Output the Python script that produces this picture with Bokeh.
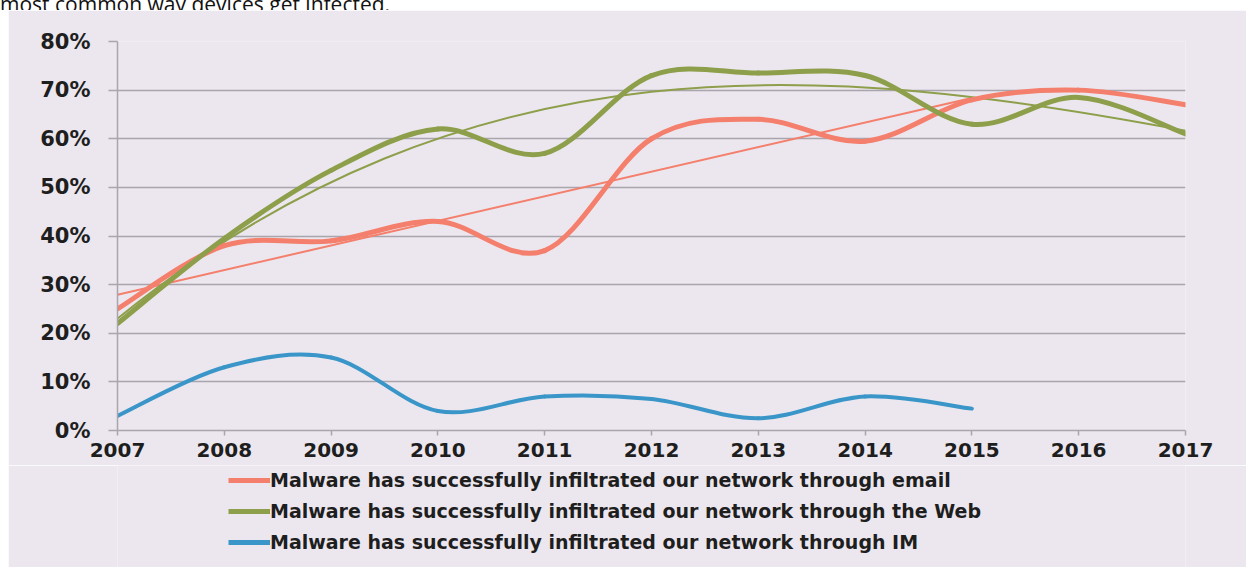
import numpy as np
from bokeh.plotting import figure
from bokeh.models import (ColumnDataSource, Legend, LegendItem, FixedTicker,
                          PrintfTickFormatter, Div, Spacer, Range1d)
from bokeh.layouts import column, row
from bokeh.embed import file_html
from bokeh.resources import INLINE

# ---------------- data ----------------
years = [2007, 2008, 2009, 2010, 2011, 2012, 2013, 2014, 2015, 2016, 2017]
email = [25, 38, 39, 43, 37, 60, 64, 59.5, 68, 70, 67]
web = [22, 39.5, 53.5, 62, 57, 73, 73.5, 73, 63, 68.5, 61]
im_years = [2007, 2008, 2009, 2010, 2011, 2012, 2013, 2014, 2015]
im = [3, 13, 15, 4, 7, 6.5, 2.5, 7, 4.5]
email_trend_years = [2007, 2015]   # span of the linear email trendline
y_ticks = [0, 10, 20, 30, 40, 50, 60, 70, 80]
labels = ["Malware has successfully infiltrated our network through email",
          "Malware has successfully infiltrated our network through the Web",
          "Malware has successfully infiltrated our network through IM"]
heading = "most common way devices get infected."

# ---------------- styles ----------------
BG = "#ECE7EE"
GRID = "#A9A5AD"
C_EMAIL = "#F47F6C"
C_WEB = "#8E9F4B"
C_IM = "#3A96C8"
TXT = "#1E1E1E"
FONT = "DejaVu Sans"


def smooth_segments(xs, ys):
    """Catmull-Rom style smoothing expressed as cubic Bezier segments."""
    xs = np.asarray(xs, float)
    ys = np.asarray(ys, float)
    n = len(xs)
    d = dict(x0=[], y0=[], x1=[], y1=[], cx0=[], cy0=[], cx1=[], cy1=[])
    for i in range(n - 1):
        a = i - 1 if i > 0 else i
        b = i + 2 if i + 2 < n else i + 1
        d["x0"].append(xs[i]); d["y0"].append(ys[i])
        d["x1"].append(xs[i + 1]); d["y1"].append(ys[i + 1])
        d["cx0"].append(xs[i] + (xs[i + 1] - xs[a]) / 6)
        d["cy0"].append(ys[i] + (ys[i + 1] - ys[a]) / 6)
        d["cx1"].append(xs[i + 1] - (xs[b] - xs[i]) / 6)
        d["cy1"].append(ys[i + 1] - (ys[b] - ys[i]) / 6)
    return ColumnDataSource(d)


def cubic_bezier(coef, xa, xb, shift):
    """Exact Bezier form of a cubic polynomial on [xa, xb]."""
    p = np.poly1d(coef)
    dp = p.deriv()
    h = xb - xa
    return ColumnDataSource(dict(
        x0=[xa + shift], y0=[p(xa)], x1=[xb + shift], y1=[p(xb)],
        cx0=[xa + h / 3 + shift], cy0=[p(xa) + h / 3 * dp(xa)],
        cx1=[xb - h / 3 + shift], cy1=[p(xb) - h / 3 * dp(xb)]))


W = 1238
p = figure(width=W, height=455, output_backend="svg", toolbar_location=None,
           x_range=Range1d(years[0], years[-1]), y_range=Range1d(0, 80),
           min_border_left=109, min_border_right=61, min_border_top=31,
           min_border_bottom=35)
p.background_fill_color = BG
p.border_fill_color = BG
p.outline_line_color = None

# trendlines
yr = np.array(years, float)
n_tr = len(im_years)
ecoef = np.polyfit(yr[:n_tr] - years[0], np.array(email[:n_tr]), 1)
ex = np.array(email_trend_years, float)
p.line(ex, np.polyval(ecoef, ex - years[0]), line_color=C_EMAIL, line_width=2)

wcoef = np.polyfit(yr - years[0], np.array(web, float), 3)
wsrc = cubic_bezier(wcoef, 0.0, float(years[-1] - years[0]), years[0])
p.bezier(x0="x0", y0="y0", x1="x1", y1="y1", cx0="cx0", cy0="cy0",
         cx1="cx1", cy1="cy1", source=wsrc, line_color=C_WEB, line_width=2)

# smoothed series
for xs, ys, col, lw in [(years, email, C_EMAIL, 5), (years, web, C_WEB, 5),
                        (im_years, im, C_IM, 4)]:
    p.bezier(x0="x0", y0="y0", x1="x1", y1="y1", cx0="cx0", cy0="cy0",
             cx1="cx1", cy1="cy1", source=smooth_segments(xs, ys),
             line_color=col, line_width=lw, line_cap="round")

# axes
p.xaxis.ticker = FixedTicker(ticks=years)
p.yaxis.ticker = FixedTicker(ticks=y_ticks)
p.yaxis.formatter = PrintfTickFormatter(format="%d%%")
for ax in (p.xaxis[0], p.yaxis[0]):
    ax.axis_line_color = GRID
    ax.axis_line_width = 1.5
    ax.major_tick_line_color = GRID
    ax.major_tick_line_width = 1.5
    ax.major_tick_in = 0
    ax.minor_tick_line_color = None
    ax.major_label_text_font = FONT
    ax.major_label_text_font_style = "bold"
    ax.major_label_text_color = TXT
p.xaxis.major_label_text_font_size = "20px"
p.yaxis.major_label_text_font_size = "21px"
p.yaxis.major_tick_out = 9
p.yaxis.major_label_standoff = 18
p.xaxis.major_tick_out = 5
p.xaxis.major_label_standoff = 7
p.xgrid.grid_line_color = None
p.ygrid.grid_line_color = GRID
p.ygrid.grid_line_width = 1.5

# legend panel (separate figure under the chart; its frame aligns with p's)
lg = figure(width=W, height=102, output_backend="svg", toolbar_location=None,
            x_range=Range1d(0, 1), y_range=Range1d(0, 1),
            x_axis_location=None, y_axis_location=None,
            min_border=0, min_border_left=0, min_border_right=0,
            min_border_top=0, min_border_bottom=0)
lg.background_fill_color = BG
lg.border_fill_color = BG
lg.outline_line_color = None
lg.xgrid.grid_line_color = None
lg.ygrid.grid_line_color = None
items = []
for lab, col in zip(labels, [C_EMAIL, C_WEB, C_IM]):
    r = lg.line(x=[np.nan], y=[np.nan], line_color=col, line_width=5)
    items.append(LegendItem(label=lab, renderers=[r]))
legend = Legend(items=items, location=(111, 14), orientation="vertical",
                glyph_width=42, glyph_height=20, label_height=20, spacing=9,
                label_standoff=0, padding=0, margin=0,
                background_fill_alpha=0, border_line_alpha=0,
                label_text_font=FONT, label_text_font_style="bold",
                label_text_font_size="19px", label_text_color=TXT)
lg.add_layout(legend, "center")

head = Div(text=('<div style="font-family:\'Open Sans\';font-size:21px;'
                 'line-height:21px;margin-top:-15px;white-space:nowrap;'
                 'color:#111;">' + heading + '</div>'),
           width=1246, height=10, margin=0, styles={"overflow": "hidden"})

layout = column(head, row(Spacer(width=8, height=557, margin=0),
                          column(p, lg, spacing=0), spacing=0), spacing=0)
open("out.html", "w").write(file_html(layout, INLINE))
